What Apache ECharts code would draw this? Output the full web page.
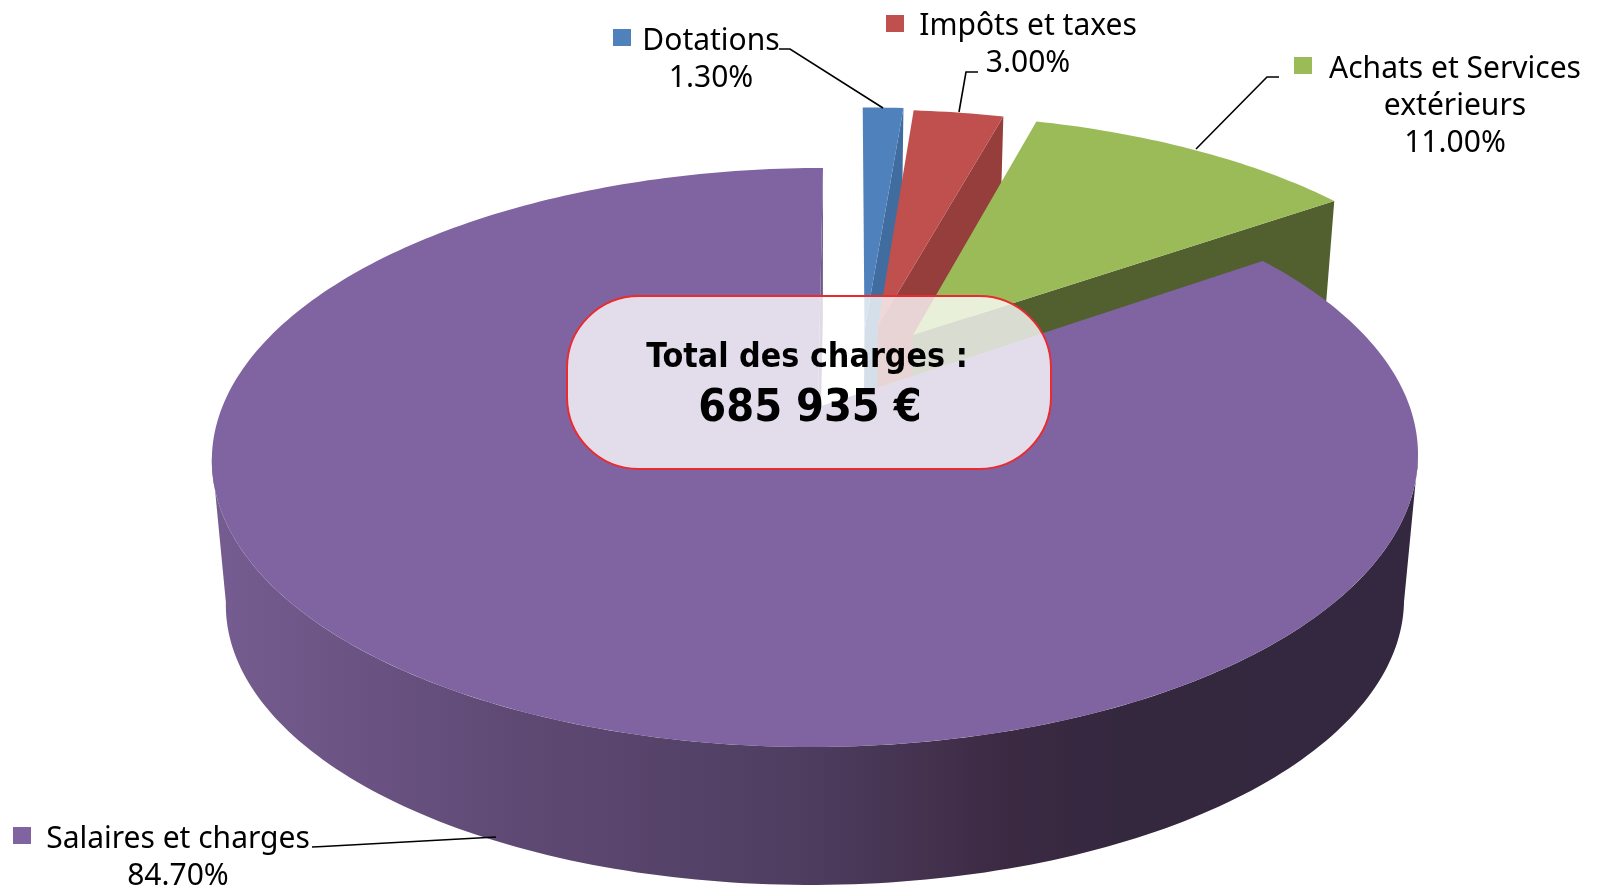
<!DOCTYPE html>
<html><head><meta charset="utf-8">
<style>html,body{margin:0;padding:0;background:#fff}#c{width:1599px;height:887px}</style>
<script src="https://cdn.jsdelivr.net/npm/echarts@6/dist/echarts.min.js"></script>
</head><body><div id="c"></div>
<script>
// ---- data ----
const categories = ['Dotations', 'Impôts et taxes', 'Achats et Services\nextérieurs', 'Salaires et charges'];
const values = [1.3, 3.0, 11.0, 84.7];
const percentLabels = ['1.30%', '3.00%', '11.00%', '84.70%'];
const totalTitle = 'Total des charges :';
const totalValue = '685 935 €';

// ---- styling ----
const topColors = ['#4F81BD', '#C0504D', '#9BBB59', '#8064A2'];
const wallColors = ['#416C9F', '#953E3B', '#525F2F', '#6F5788'];
const labelFont = '"Noto Sans", sans-serif';
const totalFont = '"DejaVu Sans Condensed", "DejaVu Sans", sans-serif';

// ---- view: a homography from the unit disc to the screen ----
const view = {vx: 851.7, c: 593.7, a: 280.7, b: 0.1744, g: 0.0033, wallScale: 0.9768, wallShift: 155.3, wallX: 815};
// explosion of each slice: where its apex lands, and its radius along each ground axis
const explode = [
  {apex: [864.5, 330], rx: 0.975, rz: 0.92},
  {apex: [878, 326], rx: 0.935, rz: 0.89},
  {apex: [913, 335], rx: 0.958, rz: 0.91},
  {apex: [818, 407], rx: 1, rz: 1}
];
const labelLayout = [
  {key: [613, 29], cx: 711, y: 23, line: [[779, 49], [790, 49], [883, 108]]},
  {key: [886, 15], cx: 1028, y: 8, line: [[978, 72], [966, 72], [959, 112]]},
  {key: [1294, 57], cx: 1455, y: 51, line: [[1279, 77], [1267, 77], [1196, 149]]},
  {key: [13, 827], cx: 178, y: 821, line: [[312, 847], [323, 846.5], [496, 837]]}
];
const keyColors = topColors;

function project(theta, r, e) {
  const X = r * e.rx * Math.sin(theta), Z = -r * e.rz * Math.cos(theta);
  const D = 1 - view.b * Z + view.g * X;
  return [view.vx + (view.c * X + e.apex[0] - view.vx) / D,
          e.apex[1] + view.a * Z / (1 - view.b * Z)];
}
function drop(p) {
  return [view.wallX + view.wallScale * (p[0] - view.wallX), view.wallScale * p[1] + view.wallShift];
}
function arc(t0, t1, e) {
  const n = Math.max(2, Math.ceil(Math.abs(t1 - t0) / (Math.PI / 180)));
  const out = [];
  for (let i = 0; i <= n; i++) out.push(project(t0 + (t1 - t0) * i / n, 1, e));
  return out;
}
const total = values.reduce((s, v) => s + v, 0);
const sideGradient = new echarts.graphic.LinearGradient(226, 0, 1403, 0, [
  {offset: 0, color: '#755C90'},
  {offset: 0.235, color: '#5F4A75'},
  {offset: 0.49, color: '#4F3D60'},
  {offset: 0.67, color: '#3B2942'},
  {offset: 0.76, color: '#34283F'},
  {offset: 1, color: '#33283F'}
], true);

function renderSlice(params, api) {
  const i = params.dataIndex;
  let before = 0;
  for (let k = 0; k < i; k++) before += values[k];
  const t0 = before / total * 2 * Math.PI;
  const t1 = (before + api.value(0)) / total * 2 * Math.PI;
  const e = explode[i];
  const children = [];
  const poly = (points, fill) => children.push({type: 'polygon', silent: true,
    shape: {points}, style: {fill, stroke: null}});

  // radial wall that faces the viewer (the clockwise end of the slice)
  const outer = project(t1, 1, e);
  poly([e.apex, outer, drop(outer), drop(e.apex)], wallColors[i]);

  // outer wall, only on the slice that reaches the front of the disc
  const left = 260 * Math.PI / 180, right = 100 * Math.PI / 180;
  if (t0 < left && t1 > right) {
    const front = arc(Math.max(t0, right), Math.min(t1, left), e);
    poly(front.concat(front.map(drop).reverse()), sideGradient);
  }
  // top face
  poly([e.apex].concat(arc(t0, t1, e)), topColors[i]);
  return {type: 'group', children};
}

const graphics = [];
categories.forEach((name, i) => {
  const L = labelLayout[i];
  graphics.push({type: 'polyline', silent: true, z: 20, shape: {points: L.line},
    style: {stroke: '#000', lineWidth: 1.6, fill: null}});
  graphics.push({type: 'rect', silent: true, z: 21, shape: {x: L.key[0], y: L.key[1], width: 18, height: 17},
    style: {fill: keyColors[i]}});
  graphics.push({type: 'text', silent: true, z: 21, x: L.cx, y: L.y,
    style: {text: name + '\n' + percentLabels[i], font: '30px ' + labelFont, lineHeight: 37,
      fill: '#000', align: 'center', verticalAlign: 'top'}});
});
graphics.push({type: 'rect', silent: true, z: 30,
  shape: {x: 567, y: 296, width: 484, height: 173, r: 72},
  style: {fill: 'rgba(255,255,255,0.78)', stroke: '#E92B2F', lineWidth: 2}});
graphics.push({type: 'text', silent: true, z: 31, x: 807, y: 358,
  style: {text: totalTitle, font: 'bold 33.7px ' + totalFont, fill: '#000', align: 'center', verticalAlign: 'middle'}});
graphics.push({type: 'text', silent: true, z: 31, x: 810, y: 409,
  style: {text: totalValue, font: 'bold 44.6px ' + totalFont, fill: '#000', align: 'center', verticalAlign: 'middle'}});

const chart = echarts.init(document.getElementById('c'), null, {renderer: 'canvas'});
chart.setOption({
  animation: false,
  backgroundColor: '#fff',
  series: [{
    type: 'custom',
    coordinateSystem: 'none',
    silent: true,
    renderItem: renderSlice,
    data: values.map((v, i) => ({name: categories[i], value: [v]}))
  }],
  graphic: graphics
});
</script></body></html>
